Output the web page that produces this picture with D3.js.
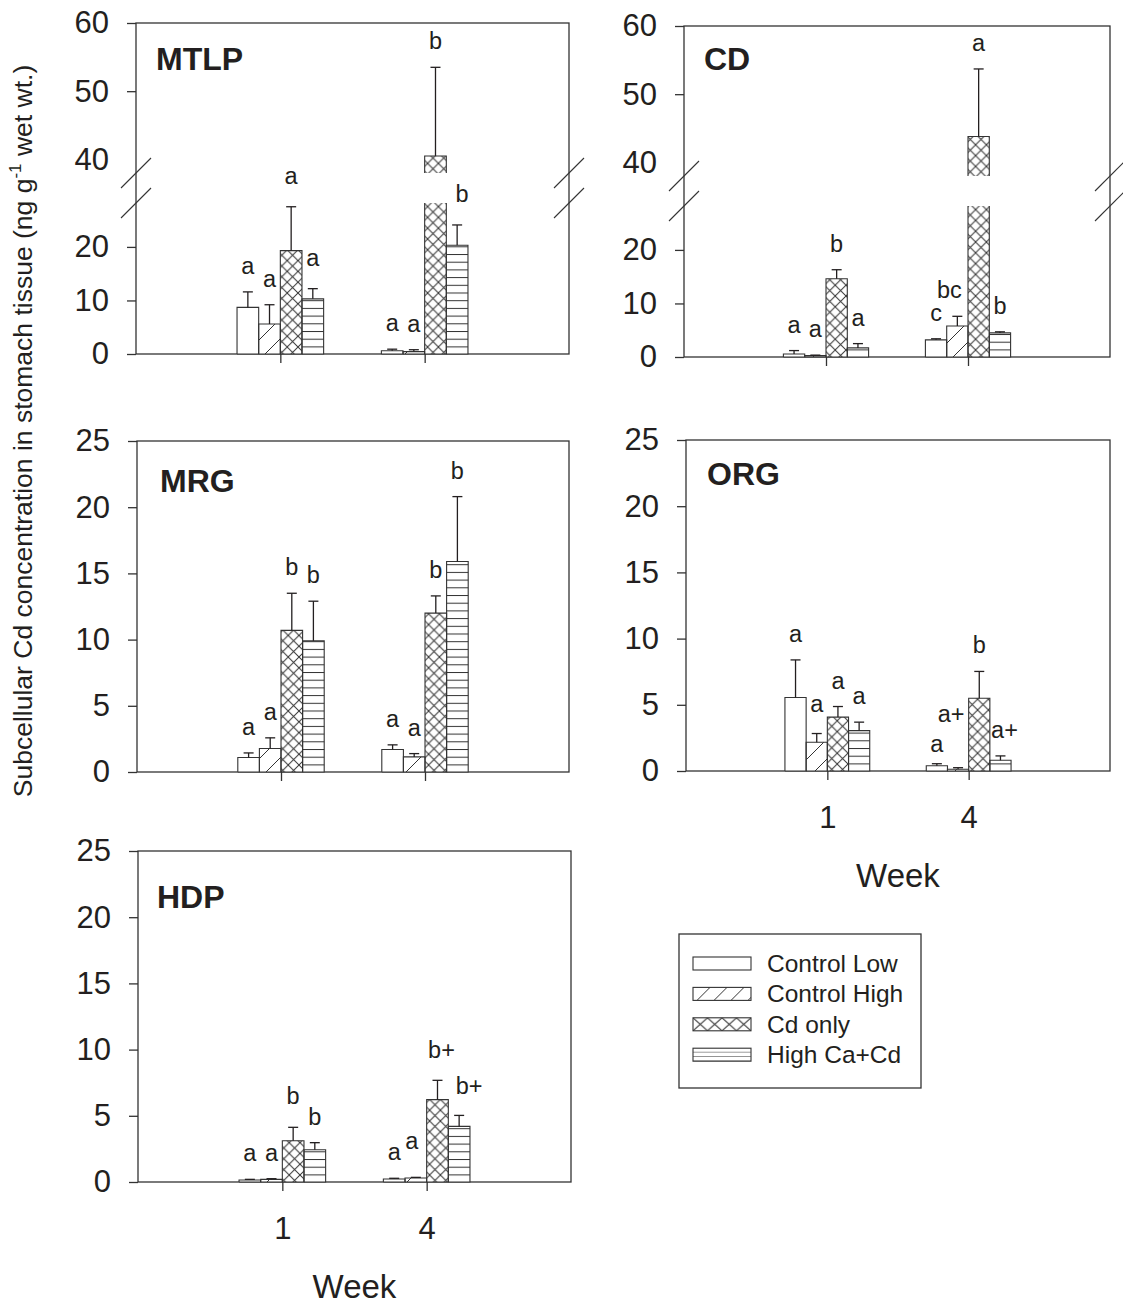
<!DOCTYPE html>
<html>
<head>
<meta charset="utf-8">
<script src="https://cdn.jsdelivr.net/npm/d3@7"></script>
<style>
  body { margin: 0; background: #fff; }
  svg { font-family: "Liberation Sans", Arial, Helvetica, sans-serif; }
</style>
</head>
<body>
<div id="chart"></div>
<script>
// ---- data ----
const weeks = ['1', '4'];
const treatments = ['Control Low', 'Control High', 'Cd only', 'High Ca+Cd'];

// rows = week, columns = treatment
const mtlpMean = [[8.7, 5.6, 19.3, 10.3], [0.6, 0.45, 40.5, 20.3]];
const mtlpErr = [[2.9, 3.6, 8.2, 1.9], [0.3, 0.35, 13.0, 3.8]];
const mtlpLetters = [['a', 'a', 'a', 'a'], ['a', 'a', 'b', 'b']];

const cdMean = [[0.56, 0.25, 14.6, 1.7], [3.2, 5.8, 43.8, 4.5]];
const cdErr = [[0.64, 0.1, 1.7, 0.8], [0.2, 1.8, 9.9, 0.2]];
const cdLetters = [['a', 'a', 'b', 'a'], ['c', 'bc', 'a', 'b']];

const mrgMean = [[1.09, 1.77, 10.7, 9.9], [1.7, 1.14, 12.0, 15.9]];
const mrgErr = [[0.35, 0.81, 2.8, 3.0], [0.35, 0.25, 1.3, 4.9]];
const mrgLetters = [['a', 'a', 'b', 'b'], ['a', 'a', 'b', 'b']];

const orgMean = [[5.55, 2.17, 4.07, 3.05], [0.4, 0.13, 5.5, 0.81]];
const orgErr = [[2.84, 0.66, 0.8, 0.64], [0.15, 0.12, 2.02, 0.33]];
const orgLetters = [['a', 'a', 'a', 'a'], ['a', 'a+', 'b', 'a+']];

const hdpMean = [[0.15, 0.2, 3.12, 2.44], [0.23, 0.3, 6.22, 4.2]];
const hdpErr = [[0.05, 0.05, 1.01, 0.53], [0.05, 0.05, 1.46, 0.83]];
const hdpLetters = [['a', 'a', 'b', 'b'], ['a', 'a', 'b+', 'b+']];

const lowTicks = [0, 10, 20];
const highTicks = [40, 50, 60];
const plainTicks = [0, 5, 10, 15, 20, 25];

const ink = '#231f20';
const fills = ['#fff', 'url(#pat-ch)', 'url(#pat-cd)', 'url(#pat-hca)'];
const legendFills = ['#fff', 'url(#leg-ch)', 'url(#leg-cd)', 'url(#leg-hca)'];

const svg = d3.select('#chart').append('svg')
    .attr('width', 1123)
    .attr('height', 1307);

// hatch patterns
const defs = svg.append('defs');
function addPattern(id, w, h, path) {
  const p = defs.append('pattern')
      .attr('id', id)
      .attr('patternUnits', 'userSpaceOnUse')
      .attr('width', w)
      .attr('height', h);
  p.append('rect').attr('width', w).attr('height', h).attr('fill', '#fff');
  p.append('path').attr('d', path)
      .attr('stroke', '#333').attr('stroke-width', 1).attr('fill', 'none');
}
addPattern('pat-ch', 20, 20, 'M0,20L20,0M-5,5L5,-5M15,25L25,15');
addPattern('pat-cd', 10.8, 10.8, 'M0,0L10.8,10.8M10.8,0L0,10.8');
addPattern('pat-hca', 10, 7.7, 'M0,0.5H10');
addPattern('leg-ch', 17, 13, 'M4,13L17,0');
addPattern('leg-cd', 14.5, 13, 'M0,0L14.5,13M14.5,0L0,13');
addPattern('leg-hca', 10, 4.4, 'M0,4.4H10');

class PanelVis {

  constructor(_config, _data) {
    this.config = {
      parent: _config.parent,
      left: _config.left,
      top: _config.top,
      width: _config.width,
      height: 331,
      title: _config.title,
      titlePos: _config.titlePos,
      broken: _config.broken || false,
      showX: _config.showX || false,
      nudge: _config.nudge || {},
      letterLift: 18,
      lowMax: 28.2,
      highMin: 38
    };
    this.data = _data;
    this.initVis();
  }

  initVis() {
    let vis = this;
    const c = vis.config;

    vis.g = c.parent.append('g')
        .attr('transform', `translate(${c.left},${c.top})`);

    // week positions at 1/3 and 2/3 of the frame
    vis.xScale = d3.scalePoint().domain(weeks).range([0, c.width]).padding(1);
    const step = vis.xScale.step();
    vis.xInner = d3.scaleBand().domain(treatments).range([-0.3 * step, 0.3 * step]);

    if (c.broken) {
      vis.yLow = d3.scaleLinear().domain([0, c.lowMax]).range([c.height, 180]);
      vis.yHigh = d3.scaleLinear().domain([c.highMin, 60]).range([150, 0]);
    } else {
      vis.yLow = d3.scaleLinear().domain([0, 25]).range([c.height, 0]);
    }
    vis.y = v => (!c.broken || v <= c.lowMax) ? vis.yLow(v) : vis.yHigh(v);

    vis.rows = weeks.flatMap((w, wi) => treatments.map((t, ti) => ({
      week: w, treat: t, ti: ti,
      mean: vis.data.mean[wi][ti],
      err: vis.data.err[wi][ti],
      letter: vis.data.letters[wi][ti],
      key: `${wi}-${ti}`
    })));

    vis.renderVis();
  }

  renderVis() {
    let vis = this;
    const c = vis.config;
    const bw = vis.xInner.bandwidth();
    const xOf = d => vis.xScale(d.week) + vis.xInner(d.treat);
    const nudge = (d, k) => c.nudge[d.key] ? c.nudge[d.key][k] : 0;

    // frame
    vis.g.append('rect')
        .attr('width', c.width)
        .attr('height', c.height)
        .attr('fill', 'none')
        .attr('stroke', '#333')
        .attr('stroke-width', 1.3);

    // bar pieces (a broken bar becomes two pieces)
    const pieces = [];
    vis.rows.forEach(d => {
      if (c.broken && d.mean > c.lowMax) {
        pieces.push({d: d, y0: vis.yLow(0), y1: vis.yLow(c.lowMax), openTop: true, openBottom: false});
        pieces.push({d: d, y0: vis.yHigh(c.highMin), y1: vis.yHigh(d.mean), openTop: false, openBottom: true});
      } else {
        pieces.push({d: d, y0: vis.yLow(0), y1: vis.yLow(d.mean), openTop: false, openBottom: false});
      }
    });

    vis.g.selectAll('.bar')
        .data(pieces)
        .join('rect')
        .attr('class', 'bar')
        .attr('x', p => xOf(p.d))
        .attr('y', p => p.y1)
        .attr('width', bw)
        .attr('height', p => Math.max(0, p.y0 - p.y1))
        .attr('fill', p => fills[p.d.ti]);

    vis.g.selectAll('.bar-edge')
        .data(pieces)
        .join('path')
        .attr('class', 'bar-edge')
        .attr('fill', 'none')
        .attr('stroke', '#333')
        .attr('stroke-width', 1.1)
        .attr('d', p => {
          const x0 = xOf(p.d), x1 = x0 + bw;
          let s = `M${x0},${p.y0}L${x0},${p.y1}`;
          s += p.openTop ? `M${x1},${p.y1}` : `L${x1},${p.y1}`;
          s += `L${x1},${p.y0}`;
          if (!p.openBottom) s += `L${x0},${p.y0}`;
          return s;
        });

    // error bars (upper half only)
    const eb = vis.g.selectAll('.err')
        .data(vis.rows)
        .join('g')
        .attr('class', 'err')
        .attr('transform', d => `translate(${xOf(d) + bw / 2},0)`)
        .attr('stroke', ink)
        .attr('stroke-width', 1.3);
    eb.append('line')
        .attr('y1', d => vis.y(d.mean))
        .attr('y2', d => vis.y(d.mean + d.err));
    eb.append('line')
        .attr('x1', -5).attr('x2', 5)
        .attr('y1', d => vis.y(d.mean + d.err))
        .attr('y2', d => vis.y(d.mean + d.err));

    // significance letters
    vis.g.selectAll('.letter')
        .data(vis.rows)
        .join('text')
        .attr('class', 'letter')
        .attr('text-anchor', 'middle')
        .attr('font-size', 23.5)
        .attr('fill', ink)
        .attr('x', d => xOf(d) + bw / 2 + nudge(d, 0))
        .attr('y', d => vis.y(d.mean + d.err) - c.letterLift + nudge(d, 1))
        .text(d => d.letter);

    // y axis
    const styleAxis = sel => {
      sel.select('.domain').remove();
      sel.selectAll('.tick line').attr('stroke', '#333').attr('stroke-width', 1.3);
      sel.selectAll('.tick text').attr('fill', ink).attr('font-size', 31)
          .attr('font-family', '"Liberation Sans", Arial, sans-serif');
    };
    vis.g.append('g')
        .call(d3.axisLeft(vis.yLow).tickValues(c.broken ? lowTicks : plainTicks)
            .tickSize(9).tickPadding(18).tickFormat(d3.format('d')))
        .call(styleAxis);
    if (c.broken) {
      vis.g.append('g')
          .call(d3.axisLeft(vis.yHigh).tickValues(highTicks)
              .tickSize(9).tickPadding(18).tickFormat(d3.format('d')))
          .call(styleAxis)
          .selectAll('.tick line').filter(d => d < c.highMin + 5).remove();

      // break marks on both sides
      [0, c.width].forEach(x => {
        [vis.yHigh(c.highMin), vis.yLow(c.lowMax)].forEach(y => {
          vis.g.append('line')
              .attr('x1', x - 15).attr('y1', y + 15)
              .attr('x2', x + 15).attr('y2', y - 15)
              .attr('stroke', '#333').attr('stroke-width', 1.1);
        });
      });
    }

    // x axis
    const xAxis = vis.g.append('g')
        .attr('transform', `translate(0,${c.height})`)
        .call(d3.axisBottom(vis.xScale).tickSize(9).tickPadding(26))
        .call(styleAxis);
    if (!c.showX) {
      xAxis.selectAll('.tick text').remove();
    } else {
      vis.g.append('text')
          .attr('x', c.width / 2)
          .attr('y', c.height + 116)
          .attr('text-anchor', 'middle')
          .attr('font-size', 33)
          .attr('fill', ink)
          .text('Week');
    }

    // panel title
    vis.g.append('text')
        .attr('x', c.titlePos[0])
        .attr('y', c.titlePos[1])
        .attr('font-size', 32)
        .attr('font-weight', 'bold')
        .attr('fill', ink)
        .text(c.title);
  }
}

new PanelVis({parent: svg, left: 136, top: 23, width: 433, title: 'MTLP', titlePos: [20, 47], broken: true,
    nudge: {'0-2': [0, -5], '0-3': [0, -5], '1-3': [5, -5]}},
    {mean: mtlpMean, err: mtlpErr, letters: mtlpLetters});
new PanelVis({parent: svg, left: 684, top: 26, width: 426, title: 'CD', titlePos: [20, 44], broken: true,
    nudge: {'1-1': [-8, 0]}},
    {mean: cdMean, err: cdErr, letters: cdLetters});
new PanelVis({parent: svg, left: 137, top: 441, width: 432, title: 'MRG', titlePos: [23, 51]},
    {mean: mrgMean, err: mrgErr, letters: mrgLetters});
new PanelVis({parent: svg, left: 686, top: 440, width: 424, title: 'ORG', titlePos: [21, 45], showX: true,
    nudge: {'0-1': [0, -4], '1-0': [0, 6], '1-1': [-7, -28], '1-3': [4, 0]}},
    {mean: orgMean, err: orgErr, letters: orgLetters});
new PanelVis({parent: svg, left: 138, top: 851, width: 433, title: 'HDP', titlePos: [19, 57], showX: true,
    nudge: {'0-2': [0, -5], '1-1': [-4, -10], '1-2': [4, -4], '1-3': [10, -3]}},
    {mean: hdpMean, err: hdpErr, letters: hdpLetters});

// shared y title
const yTitle = svg.append('text')
    .attr('transform', 'translate(32,431) rotate(-90)')
    .attr('text-anchor', 'middle')
    .attr('font-size', 26.5)
    .attr('fill', ink);
yTitle.append('tspan').text('Subcellular Cd concentration in stomach tissue (ng g');
yTitle.append('tspan').attr('font-size', 17).attr('dy', -11).text('-1');
yTitle.append('tspan').attr('dy', 11).text(' wet wt.)');

// legend
const legend = svg.append('g').attr('transform', 'translate(679,934)');
legend.append('rect')
    .attr('width', 242).attr('height', 154)
    .attr('fill', '#fff').attr('stroke', '#333').attr('stroke-width', 1.3);
const legRow = legend.selectAll('.leg-row')
    .data(treatments)
    .join('g')
    .attr('class', 'leg-row')
    .attr('transform', (d, i) => `translate(14,${23 + i * 30.4})`);
legRow.append('rect')
    .attr('width', 58).attr('height', 13)
    .attr('fill', (d, i) => legendFills[i])
    .attr('stroke', '#333').attr('stroke-width', 1.1);
legRow.append('text')
    .attr('x', 74).attr('y', 6.5).attr('dy', '0.35em')
    .attr('font-size', 24.5)
    .attr('fill', ink)
    .text(d => d);
</script>
</body>
</html>
